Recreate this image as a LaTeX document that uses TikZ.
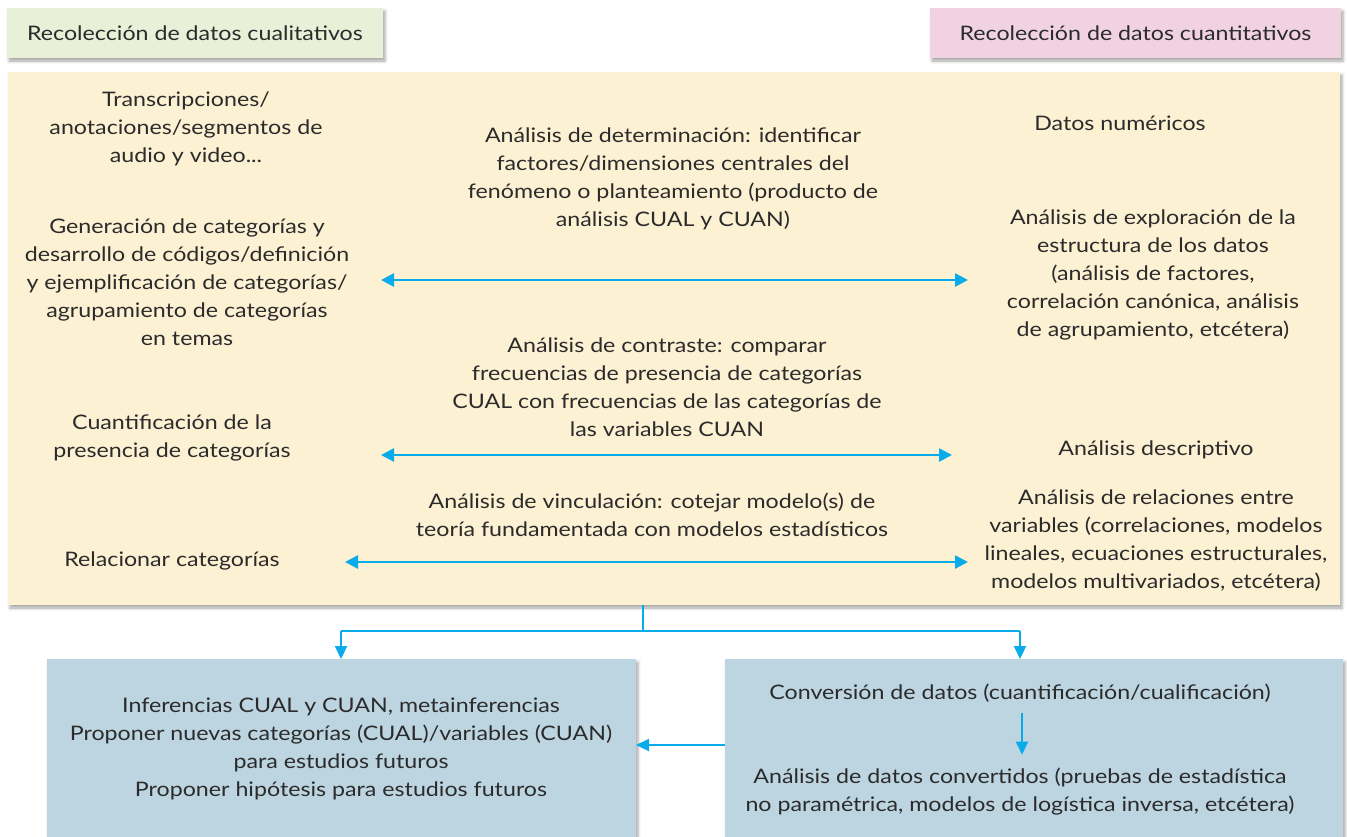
\documentclass[tikz,border=0pt]{standalone}
\usepackage{fontspec}
\setmainfont{Lato}[FakeStretch=1.16]
\usetikzlibrary{arrows.meta,shadows.blur}
\definecolor{txt}{HTML}{2B2B2B}
\definecolor{qualg}{HTML}{E8F1D8}
\definecolor{quanp}{HTML}{F1D2E2}
\definecolor{mainy}{HTML}{FDF1D3}
\definecolor{boxb}{HTML}{BDD5E1}
\definecolor{arrc}{HTML}{0AABEB}
\tikzset{
  lbl/.style={align=center, text=txt, font=\fontsize{20}{28}\selectfont, inner sep=0pt},
  panel/.style={anchor=north west, inner sep=0pt, outer sep=0pt,
    blur shadow={shadow xshift=2pt, shadow yshift=-3pt, shadow blur radius=3pt, shadow opacity=35}},
  dbl/.style={draw=arrc, line width=2.6pt, {Triangle[length=13pt,width=13pt]}-{Triangle[length=13pt,width=13pt]}},
  one/.style={draw=arrc, line width=2.2pt, -{Triangle[length=13pt,width=12pt]}},
  ln/.style={draw=arrc, line width=2.2pt}
}
\begin{document}
\begin{tikzpicture}[x=1pt,y=-1pt]
\useasboundingbox (0,0) rectangle (1347,836);
% panels
\node[panel, fill=qualg, minimum width=376pt, minimum height=50pt] (qual) at (7,8) {};
\node[lbl] (qualt) at (qual.center) {Recolección de datos cualitativos};
\node[panel, fill=quanp, minimum width=411pt, minimum height=50pt] (quan) at (930,8) {};
\node[lbl] (quant) at (quan.center) {Recolección de datos cuantitativos};
\node[panel, fill=mainy, minimum width=1332pt, minimum height=533pt] (main) at (8,72) {};
\node[panel, fill=boxb, minimum width=589pt, minimum height=180pt] (lbox) at (47,659) {};
\node[panel, fill=boxb, minimum width=618pt, minimum height=180pt] (rbox) at (725,659) {};
% left column
\node[lbl] (l1) at (186,129) {Transcripciones/\\anotaciones/segmentos de\\audio y video...};
\node[lbl] (l2) at (187,282) {Generación de categorías y\\desarrollo de códigos/definición\\y ejemplificación de categorías/\\agrupamiento de categorías\\en temas};
\node[lbl] (l3) at (172,438) {Cuantificación de la\\presencia de categorías};
\node[lbl] (l4) at (172,561) {Relacionar categorías};
% middle column
\node[lbl] (m1) at (673,179) {Análisis de determinación: identificar\\factores/dimensiones centrales del\\fenómeno o planteamiento (producto de\\análisis CUAL y CUAN)};
\node[lbl] (m2) at (667,387) {Análisis de contraste: comparar\\frecuencias de presencia de categorías\\CUAL con frecuencias de las categorías de\\las variables CUAN};
\node[lbl] (m3) at (652,515) {Análisis de vinculación: cotejar modelo(s) de\\teoría fundamentada con modelos estadísticos};
% right column
\node[lbl] (r1) at (1120,123) {Datos numéricos};
\node[lbl] (r2) at (1153,275) {Análisis de exploración de la\\estructura de los datos\\(análisis de factores,\\correlación canónica, análisis\\de agrupamiento, etcétera)};
\node[lbl] (r3) at (1156,450) {Análisis descriptivo};
\node[lbl] (r4) at (1156,541) {Análisis de relaciones entre\\variables (correlaciones, modelos\\lineales, ecuaciones estructurales,\\modelos multivariados, etcétera)};
% bottom texts
\node[lbl] (b1) at (341,749) {Inferencias CUAL y CUAN, metainferencias\\Proponer nuevas categorías (CUAL)/variables (CUAN)\\para estudios futuros\\Proponer hipótesis para estudios futuros};
\node[lbl] (b2) at (1020,693) {Conversión de datos (cuantificación/cualificación)};
\node[lbl] (b3) at (1020,791.5) {Análisis de datos convertidos (pruebas de estadística\\no paramétrica, modelos de logística inversa, etcétera)};
% arrow end coordinates
\coordinate (a1l) at (381,280); \coordinate (a1r) at (968,280);
\coordinate (a2l) at (381,455); \coordinate (a2r) at (952,455);
\coordinate (a3l) at (345,562); \coordinate (a3r) at (968,562);
\draw[dbl] (a1l) -- (a1r);
\draw[dbl] (a2l) -- (a2r);
\draw[dbl] (a3l) -- (a3r);
% bottom connectors
\coordinate (split) at (643,631);
\coordinate (lx) at (341,631);
\coordinate (rx) at (1020,631);
\draw[ln] (main.south -| split) -- (split);
\draw[ln] (lx) -- (rx);
\draw[one] (lx) -- (lbox.north -| lx);
\draw[one] (rx) -- (rbox.north -| rx);
\coordinate (mid) at (680,745);
\draw[one] (rbox.west |- mid) -- (lbox.east |- mid);
\coordinate (cx) at (1022,0);
\draw[one] ([yshift=-11pt]b2.south -| cx) -- ([yshift=13pt]b3.north -| cx);
\end{tikzpicture}
\end{document}
